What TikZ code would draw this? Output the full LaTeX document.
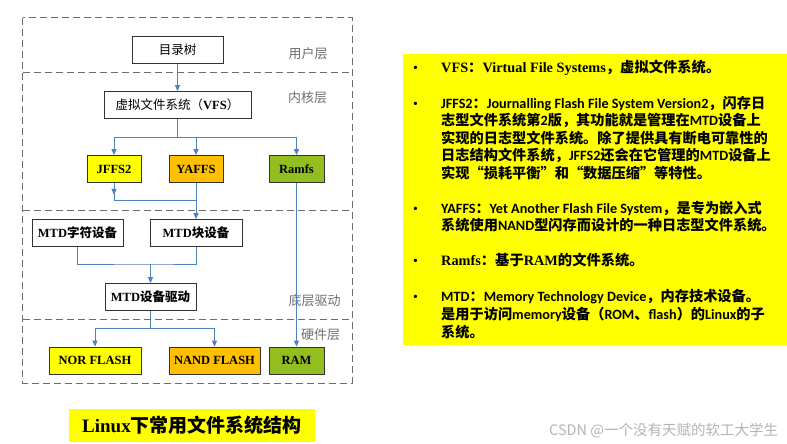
\documentclass[tikz,border=0pt]{standalone}
\usepackage{fontspec}
\setmainfont{Liberation Serif}
\newfontfamily\cjk{Noto Sans CJK SC}
\newfontfamily\calfont{Carlito}
\usetikzlibrary{arrows.meta}
\definecolor{arrowblue}{RGB}{79,129,189}
\definecolor{jyellow}{RGB}{255,255,0}
\definecolor{yorange}{RGB}{255,192,0}
\definecolor{rgreen}{RGB}{146,190,32}
\definecolor{layergray}{RGB}{110,110,110}
\definecolor{wmgray}{RGB}{180,180,180}
\newcommand{\zh}[1]{{\cjk #1}}
\tikzset{
  fsbox/.style={draw=black!80, line width=0.8pt, inner sep=0pt, minimum height=27pt,
    font=\bfseries\fontsize{12.5}{14}\selectfont},
  layerline/.style={draw=layergray, line width=1pt, dash pattern=on 7pt off 4pt},
  layerlabel/.style={text=layergray, inner sep=0pt, font=\cjk\fontsize{13}{15}\selectfont},
  conn/.style={draw=arrowblue, line width=0.9pt},
  arr/.style={conn, -{Triangle[length=6pt,width=5pt]}},
  rline/.style={anchor=base west, inner sep=0pt, font=\bfseries\fontsize{14.3}{17}\selectfont},
  sline/.style={rline, font=\calfont\bfseries\fontsize{14.2}{17}\selectfont},
  bullet/.style={anchor=base west, inner sep=0pt, font=\fontsize{14}{17}\selectfont}
}
\begin{document}
\begin{tikzpicture}[x=1pt,y=-1pt]
\useasboundingbox (0,0) rectangle (787,444);
\fill[white] (0,0) rectangle (787,444);

% layers
\draw[layerline] (22.7,18) rectangle (352,383);
\draw[layerline] (22.7,73) -- (352,73);
\draw[layerline] (22.7,210) -- (352,210);
\draw[layerline] (22.7,319) -- (352,319);
\node[layerlabel] (l1) at (308,54) {用户层};
\node[layerlabel] (l2) at (307.5,98) {内核层};
\node[layerlabel] (l3) at (314.5,301) {底层驱动};
\node[layerlabel] (l4) at (320.5,335) {硬件层};

% boxes
\node[fsbox, minimum width=91pt, font=\fontsize{12.5}{14}\selectfont] (tree) at (177.5,50) {\zh{目录树}};
\node[fsbox, minimum width=147pt] (vfs) at (177.5,105) {\mdseries\zh{虚拟文件系统（}\bfseries VFS\mdseries\zh{）}};
\node[fsbox, minimum width=54pt, fill=jyellow] (jffs) at (114,169) {JFFS2};
\node[fsbox, minimum width=54pt, fill=yorange] (yaffs) at (196,169) {YAFFS};
\node[fsbox, minimum width=55pt, fill=rgreen] (ramfs) at (296.5,169) {Ramfs};
\node[fsbox, minimum width=91pt] (mtdchar) at (77.5,233) {MTD\zh{字符设备}};
\node[fsbox, minimum width=92pt] (mtdblk) at (196,233) {MTD\zh{块设备}};
\node[fsbox, minimum width=91pt] (drv) at (150.5,297) {MTD\zh{设备驱动}};
\node[fsbox, minimum width=92pt, fill=jyellow] (nor) at (95,360.5) {NOR FLASH};
\node[fsbox, minimum width=91pt, fill=yorange] (nand) at (214.5,360.5) {NAND FLASH};
\node[fsbox, minimum width=55pt, fill=rgreen] (ram) at (296.5,360.5) {RAM};

% connectors
\draw[arr] (tree) -- (vfs);
\coordinate (vj) at (177.5,137);
\draw[conn] (vfs.south) -- (vj);
\draw[arr] (vj) -| (jffs.north);
\draw[arr] (vj) -| (yaffs.north);
\draw[arr] (vj) -| (ramfs.north);
\coordinate (jy) at (196,200);
\draw[conn] (jffs.south) |- (jy);
\draw[arr] (jffs.south) -- ++(0,12);
\draw[arr] (yaffs.south) -- (mtdblk.north);
\coordinate (md) at (150.5,264);
\draw[conn] (mtdchar.south) |- (md) -| (mtdblk.south);
\draw[arr] (md) -- (drv.north);
\coordinate (df) at (150.5,328);
\draw[conn] (drv.south) -- (df);
\draw[arr] (df) -| (nor.north);
\draw[arr] (df) -| (nand.north);
\draw[arr] (ramfs.south) -- (ram.north);

% title
\node[fill=jyellow, minimum width=246pt, minimum height=33pt, inner sep=0pt,
  font=\bfseries\fontsize{19}{21}\selectfont] (title) at (192,425.5) {Linux\zh{下常用文件系统结构}};

% right box
\fill[jyellow] (403,54) rectangle (787,345);
\node[bullet] (b1) at (413,73) {•};
\node[rline] (t1) at (441,73) {VFS\zh{：}Virtual File Systems\zh{，虚拟文件系统。}};
\node[bullet] (b2) at (413,108) {•};
\node[sline] (t2a) at (441,108) {JFFS2\zh{：}Journalling Flash File System Version2\zh{，闪存日}};
\node[sline] (t2b) at (441,125) {\zh{志型文件系统第}2\zh{版，其功能就是管理在}MTD\zh{设备上}};
\node[sline] (t2c) at (441,143) {\zh{实现的日志型文件系统。除了提供具有断电可靠性的}};
\node[sline] (t2d) at (441,160) {\zh{日志结构文件系统，}JFFS2\zh{还会在它管理的}MTD\zh{设备上}};
\node[sline] (t2e) at (441,178) {\zh{实现“损耗平衡”和“数据压缩”等特性。}};
\node[bullet] (b3) at (413,213) {•};
\node[sline] (t3a) at (441,213) {YAFFS\zh{：}Yet Another Flash File System\zh{，是专为嵌入式}};
\node[sline] (t3b) at (441,230) {\zh{系统使用}NAND\zh{型闪存而设计的一种日志型文件系统。}};
\node[bullet] (b4) at (413,265) {•};
\node[rline] (t4) at (441,265) {Ramfs\zh{：基于}RAM\zh{的文件系统。}};
\node[bullet] (b5) at (413,301) {•};
\node[sline] (t5a) at (441,301) {MTD\zh{：}Memory Technology Device\zh{，内存技术设备。}};
\node[sline] (t5b) at (441,319) {\zh{是用于访问}memory\zh{设备（}ROM\zh{、}flash\zh{）的}Linux\zh{的子}};
\node[sline] (t5c) at (441,337) {\zh{系统。}};

% watermark
\node[anchor=base west, inner sep=0pt, text=wmgray, font=\cjk\fontsize{14.5}{16}\selectfont] (wm) at (549,435) {CSDN @一个没有天赋的软工大学生};
\end{tikzpicture}
\end{document}
